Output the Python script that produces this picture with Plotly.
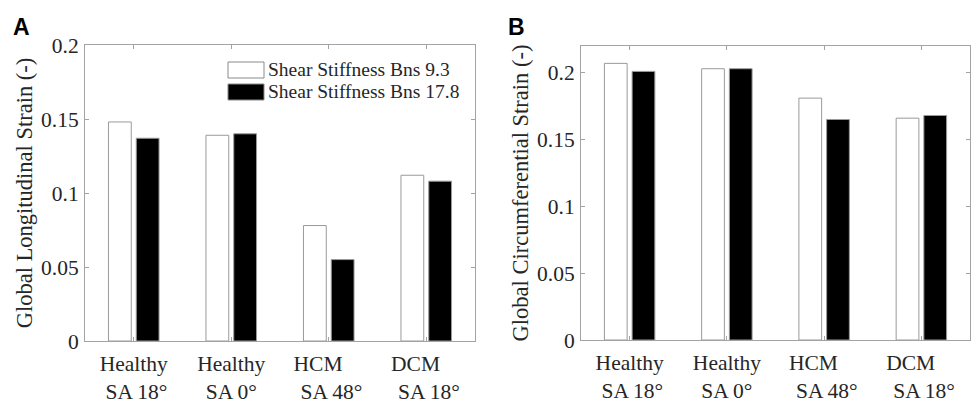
import plotly.graph_objects as go

# ---- data ----
cat_line1 = ["Healthy", "Healthy", "HCM", "DCM"]
cat_line2 = ["SA 18°", "SA 0°", "SA 48°", "SA 18°"]
series_names = ["Shear Stiffness Bns 9.3", "Shear Stiffness Bns 17.8"]
gls_bns93 = [0.148, 0.139, 0.078, 0.112]
gls_bns178 = [0.137, 0.140, 0.055, 0.108]
gcs_bns93 = [0.207, 0.203, 0.181, 0.166]
gcs_bns178 = [0.201, 0.203, 0.165, 0.168]
yticks = [0, 0.05, 0.1, 0.15, 0.2]
ytick_text = ["0", "0.05", "0.1", "0.15", "0.2"]

W, H = 973, 404
positions = [1, 2, 3, 4]
pad1 = ["", "", "\u00a0" * 4, "\u00a0" * 4]
pad2 = ["\u00a0", "", "\u00a0", "\u00a0"]
ticktext = [f"{a}{p1}<br>{p2}{b}" for a, b, p1, p2 in zip(cat_line1, cat_line2, pad1, pad2)]

SERIF = "Liberation Serif, Times New Roman, serif"
AXC = "#a3a3a3"
TXT = "#262626"
FS = 21.5
TFS = 22.5

fig = go.Figure()
fills = ["white", "black"]
for i, (vals, name) in enumerate(zip([gls_bns93, gls_bns178], series_names)):
    fig.add_trace(go.Bar(x=positions, y=vals, name=name, marker=dict(color=fills[i], line=dict(color="#9a9a9a", width=1)),
                         xaxis="x", yaxis="y", showlegend=False, offsetgroup=str(i)))
for i, (vals, name) in enumerate(zip([gcs_bns93, gcs_bns178], series_names)):
    fig.add_trace(go.Bar(x=positions, y=vals, name=name, marker=dict(color=fills[i], line=dict(color="#9a9a9a", width=1)),
                         xaxis="x2", yaxis="y2", showlegend=False, offsetgroup=str(i)))


def px_x(p):
    return p / W


def px_y(p):
    return 1 - p / H


common_x = dict(range=[0.5, 4.5], tickvals=positions, ticktext=ticktext, ticks="inside", ticklen=4,
                tickcolor=AXC, showline=True, linecolor=AXC, linewidth=1, mirror="allticks",
                showgrid=False, zeroline=False, tickfont=dict(family=SERIF, size=FS, color=TXT),
                ticklabelstandoff=3, automargin=False)
common_y = dict(tickvals=yticks, ticktext=ytick_text, ticks="inside", ticklen=4, tickcolor=AXC,
                showline=True, linecolor=AXC, linewidth=1, mirror="allticks", showgrid=False,
                zeroline=False, tickfont=dict(family=SERIF, size=FS, color=TXT), ticklabelstandoff=1,
                automargin=False)

fig.update_layout(
    width=W, height=H,
    margin=dict(l=0, r=0, t=0, b=0),
    paper_bgcolor="white", plot_bgcolor="white",
    barmode="group", bargap=0.43, bargroupgap=0.18,
    xaxis=dict(domain=[px_x(85), px_x(475)], anchor="y", **common_x),
    yaxis=dict(domain=[px_y(341), px_y(45)], anchor="x", range=[0, 0.2],
               title=dict(text="Global Longitudinal Strain (-)", font=dict(family=SERIF, size=TFS, color=TXT), standoff=2),
               **common_y),
    xaxis2=dict(domain=[px_x(581), px_x(970)], anchor="y2", **common_x),
    yaxis2=dict(domain=[px_y(340), px_y(46)], anchor="x2", range=[0, 0.22],
                title=dict(text="Global Circumferential Strain (-)", font=dict(family=SERIF, size=TFS, color=TXT), standoff=2),
                **common_y),
)

# panel letters
for letter, xc in (("A", 21), ("B", 516)):
    fig.add_annotation(x=px_x(xc), y=px_y(27), xref="paper", yref="paper", text=f"<b>{letter}</b>",
                       showarrow=False, xanchor="center", yanchor="middle",
                       font=dict(family="Liberation Sans, Arial, sans-serif", size=23, color="black"))

# legend (manual, large swatches like the original)
leg_rows = [(70, fills[0]), (92, fills[1])]
for (yc, col), name in zip(leg_rows, series_names):
    fig.add_shape(type="rect", xref="paper", yref="paper", x0=px_x(228), x1=px_x(264),
                  y0=px_y(yc - 8), y1=px_y(yc + 8), fillcolor=col, line=dict(color="#8a8a8a", width=1))
    fig.add_annotation(x=px_x(266), y=px_y(yc), xref="paper", yref="paper", text=name, showarrow=False,
                       xanchor="left", yanchor="middle", font=dict(family=SERIF, size=19.5, color=TXT))

fig.write_html("out.html")
